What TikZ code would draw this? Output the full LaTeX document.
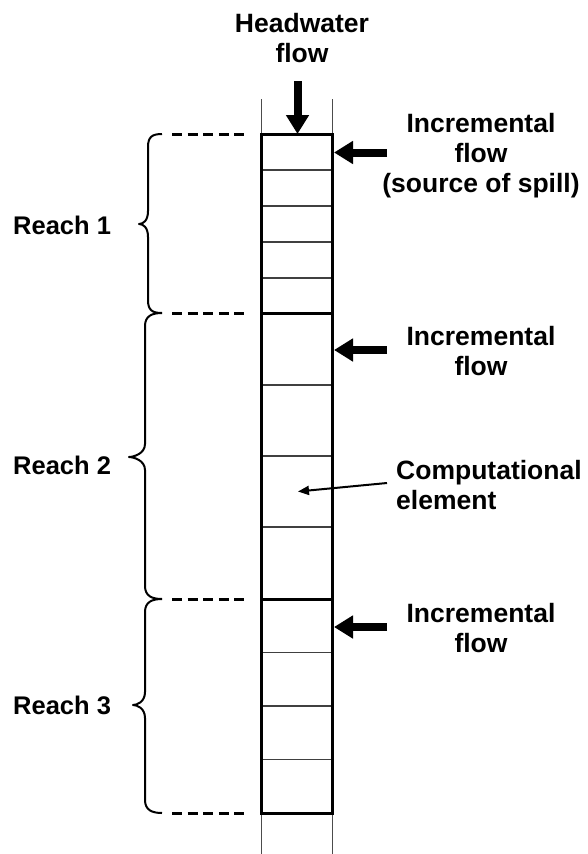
\documentclass[tikz,border=0pt]{standalone}
\usepackage{fontspec}
\setmainfont{Liberation Sans}
\usetikzlibrary{arrows.meta}
\begin{document}
\begin{tikzpicture}[x=1pt,y=-1pt,
  lbl/.style={font=\bfseries\fontsize{25.5}{30}\selectfont, inner sep=0pt},
  side/.style={font=\bfseries\fontsize{26.5}{30}\selectfont, inner sep=0pt},
  wall/.style={line width=3pt},
  cellline/.style={line width=1.1pt, black!75},
  guide/.style={line width=1pt, black!70},
  extent/.style={line width=3pt, dash pattern=on 10pt off 5.6pt},
  bracestyle/.style={line width=2pt, line join=round},
  inflow/.style={line width=8pt, -{Triangle[width=22pt,length=19pt]}},
  pointer/.style={line width=2pt, -{Triangle[width=9pt,length=11pt]}}]
\useasboundingbox (0,0) rectangle (587,854);

% column edges
\def\xl{261.5}
\def\xr{332.5}

% thin channel lines above and below the modelled reaches
\draw[guide] (\xl,99) -- (\xl,134) (\xr,99) -- (\xr,134);
\draw[guide] (\xl,813) -- (\xl,854) (\xr,813) -- (\xr,854);

% computational elements
\foreach \y in {170,206,242,278,385,456,527,652.5,706,759.5}
  \draw[cellline] (\xl,\y) -- (\xr,\y);

% reach boundaries and outer walls
\draw[wall] (\xl,134) rectangle (\xr,813);
\foreach \y in {313,599}
  \draw[wall] (\xl,\y) -- (\xr,\y);

% dashed extent markers
\foreach \y in {134,313,599,813}
  \draw[extent] (172,\y) -- (245,\y);

% curly braces: top, tip y, bottom, stem x, tip x
\newcommand\reachbracket[5]{%
  \draw[bracestyle] (162,#1) .. controls (152,#1) and (#4,#1+3) .. (#4,#1+13)
    -- (#4,#2-13) .. controls (#4,#2-3) and (#5+4,#2) .. (#5,#2)
    .. controls (#5+4,#2) and (#4,#2+3) .. (#4,#2+13)
    -- (#4,#3-13) .. controls (#4,#3-3) and (152,#3) .. (162,#3);}
\reachbracket{134}{224}{313}{148}{139}
\reachbracket{313}{457}{599}{145}{129}
\reachbracket{599}{705}{813}{145}{133}

% labels (multi-line nodes are anchored at the baseline of their last line)
\node[lbl, anchor=base west] (r1) at (13,234) {Reach 1};
\node[lbl, anchor=base west] (r2) at (13,474) {Reach 2};
\node[lbl, anchor=base west] (r3) at (13,714) {Reach 3};

\node[side, align=center, anchor=base] (hw) at (302,62) {Headwater\\flow};
\node[side, align=center, anchor=base] (inc1) at (481,192) {Incremental\\flow\\(source of spill)};
\node[side, align=center, anchor=base] (inc2) at (481,375) {Incremental\\flow};
\node[side, align=center, anchor=base] (inc3) at (481,652) {Incremental\\flow};
\node[side, align=left, anchor=base west] (comp) at (396,509) {Computational\\element};

% arrow end points
\coordinate (hwtail) at (297.5,81);
\coordinate (hwtip) at (297.5,134);
\coordinate (in1tail) at (387,152.5);
\coordinate (in1tip) at (334,152.5);
\coordinate (in2tail) at (387,350);
\coordinate (in2tip) at (334,350);
\coordinate (in3tail) at (387,627);
\coordinate (in3tip) at (334,627);
\coordinate (elemtail) at (387,483);
\coordinate (elem) at (298,491.5);

\draw[inflow] (hwtail) -- (hwtip);
\draw[inflow] (in1tail) -- (in1tip);
\draw[inflow] (in2tail) -- (in2tip);
\draw[inflow] (in3tail) -- (in3tip);
\draw[pointer] (elemtail) -- (elem);
\end{tikzpicture}
\end{document}
